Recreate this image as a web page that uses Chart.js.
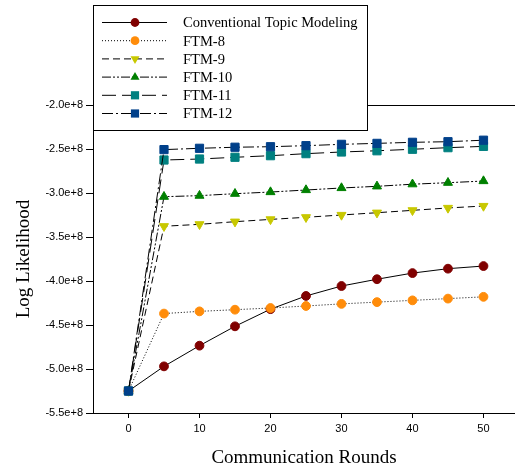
<!DOCTYPE html>
<html>
<head>
<meta charset="utf-8">
<script src="https://cdn.jsdelivr.net/npm/chart.js@4/dist/chart.umd.min.js"></script>
<style>
  html, body { margin: 0; padding: 0; background: #fff; }
</style>
</head>
<body>
<canvas id="myChart" width="515" height="469"></canvas>
<script>
let rounds = [0, 5, 10, 15, 20, 25, 30, 35, 40, 45, 50];
let xTicks = [0, 10, 20, 30, 40, 50];

// values in units of 1e8
let conventional = [-5.25, -4.97, -4.735, -4.515, -4.32, -4.17, -4.057, -3.98, -3.91, -3.86, -3.83];
let ftm8 = [-5.25, -4.37, -4.345, -4.326, -4.307, -4.284, -4.26, -4.24, -4.22, -4.2, -4.18];
let ftm9 = [-5.25, -3.378, -3.356, -3.326, -3.3, -3.276, -3.25, -3.224, -3.197, -3.17, -3.148];
let ftm10 = [-5.25, -3.042, -3.03, -3.008, -2.989, -2.966, -2.943, -2.924, -2.9, -2.883, -2.864];
let ftm11 = [-5.25, -2.625, -2.614, -2.594, -2.576, -2.553, -2.534, -2.52, -2.503, -2.485, -2.47];
let ftm12 = [-5.25, -2.507, -2.492, -2.48, -2.474, -2.462, -2.447, -2.436, -2.424, -2.417, -2.4];

let seriesNames = ["Conventional Topic Modeling", "FTM-8", "FTM-9", "FTM-10", "FTM-11", "FTM-12"];
let seriesValues = [conventional, ftm8, ftm9, ftm10, ftm11, ftm12];
let markerColors = ["#800000", "#ff8c0a", "#c8c800", "#008000", "#008080", "#00408a"];
let dashes = [[], [1, 2], [7, 4], [9, 2, 2, 2, 2, 2], [14, 6], [11, 3, 2, 3]];
let shapes = ["circle", "circle", "triangle", "triangle", "rect", "rect"];
let rotations = [0, 0, 180, 0, 0, 0];
let radii = [4.4, 4.4, 5.2, 5.2, 5.8, 5.8];

function toPoints(vals) {
  return rounds.map((r, i) => ({ x: r, y: vals[i] * 1e8 }));
}

let datasets = seriesNames.map((name, i) => ({
  label: name,
  data: toPoints(seriesValues[i]),
  borderColor: "#000",
  borderWidth: 1,
  borderDash: dashes[i],
  pointStyle: shapes[i],
  pointRotation: rotations[i],
  pointRadius: radii[i],
  pointBackgroundColor: markerColors[i],
  pointBorderColor: markerColors[i],
  pointBorderWidth: 1,
  fill: false,
  tension: 0,
  order: seriesNames.length - i,
}));

function drawMarker(ctx, shape, rot, r, x, y, color) {
  ctx.save();
  ctx.fillStyle = color;
  ctx.beginPath();
  if (shape == "circle") {
    ctx.arc(x, y, r, 0, Math.PI * 2);
  } else if (shape == "rect") {
    let s = r * Math.SQRT1_2;
    ctx.rect(x - s, y - s, s * 2, s * 2);
  } else {
    let dir = rot == 180 ? -1 : 1;
    let h = r * 0.5;
    ctx.moveTo(x, y - dir * r);
    ctx.lineTo(x - r * 0.866, y + dir * h);
    ctx.lineTo(x + r * 0.866, y + dir * h);
    ctx.closePath();
  }
  ctx.fill();
  ctx.restore();
}

let frame = {
  id: "frame",
  afterDatasetsDraw(chart) {
    let ctx = chart.ctx;
    let area = chart.chartArea;
    // top border line
    ctx.save();
    ctx.strokeStyle = "#000";
    ctx.lineWidth = 1;
    ctx.beginPath();
    ctx.moveTo(area.left, area.top + 0.5);
    ctx.lineTo(area.right, area.top + 0.5);
    ctx.stroke();

    // legend box
    let bx = 93.5, by = 5.5, bw = 274, bh = 125;
    ctx.fillStyle = "#fff";
    ctx.fillRect(bx, by, bw, bh);
    ctx.strokeRect(bx, by, bw, bh);
    ctx.font = "14.5px 'Liberation Serif', 'Times New Roman', serif";
    ctx.textBaseline = "middle";
    for (let i = 0; i < seriesNames.length; i++) {
      let y = 22.5 + i * 18.2;
      ctx.setLineDash(dashes[i]);
      ctx.beginPath();
      ctx.moveTo(102, y);
      ctx.lineTo(167, y);
      ctx.stroke();
      ctx.setLineDash([]);
      drawMarker(ctx, shapes[i], rotations[i], radii[i], 135, y, markerColors[i]);
      ctx.fillStyle = "#000";
      ctx.fillText(seriesNames[i], 183, y + 1);
    }
    ctx.restore();
  },
};

let myChart = document.getElementById("myChart").getContext("2d");

var chart = new Chart(myChart, {
  type: "line",
  data: { datasets: datasets },
  options: {
    responsive: false,
    animation: false,
    layout: { autoPadding: false, padding: { top: 105, right: 0, left: 0, bottom: 0 } },
    plugins: { legend: { display: false }, tooltip: { enabled: false } },
    scales: {
      x: {
        type: "linear",
        min: -5,
        max: 54.44,
        afterBuildTicks: (scale) => {
          scale.ticks = xTicks.map((v) => ({ value: v }));
        },
        afterFit: (scale) => {
          scale.height = 56;
          scale.paddingLeft = 0;
          scale.paddingRight = 0;
        },
        grid: { drawOnChartArea: false, tickLength: 5, color: "#000" },
        border: { color: "#000", width: 1 },
        ticks: {
          color: "#000",
          padding: 4,
          maxRotation: 0,
          font: { family: "'Liberation Sans', Arial, sans-serif", size: 11 },
        },
        title: {
          display: true,
          text: "Communication Rounds",
          color: "#000",
          padding: { top: 0, bottom: 0 },
          font: { family: "'Liberation Serif', 'Times New Roman', serif", size: 19 },
        },
      },
      y: {
        min: -5.5e8,
        max: -2.0e8,
        afterFit: (scale) => {
          scale.width = 93;
        },
        grid: { drawOnChartArea: false, tickLength: 7, color: "#000" },
        border: { color: "#000", width: 1 },
        ticks: {
          stepSize: 0.5e8,
          color: "#000",
          padding: 3,
          font: { family: "'Liberation Sans', Arial, sans-serif", size: 11 },
          callback: (v) => (v / 1e8).toFixed(1) + "e+8",
        },
        title: {
          display: true,
          text: "Log Likelihood",
          color: "#000",
          padding: { top: 13, bottom: 0 },
          font: { family: "'Liberation Serif', 'Times New Roman', serif", size: 19 },
        },
      },
    },
  },
  plugins: [frame],
});
</script>
</body>
</html>
